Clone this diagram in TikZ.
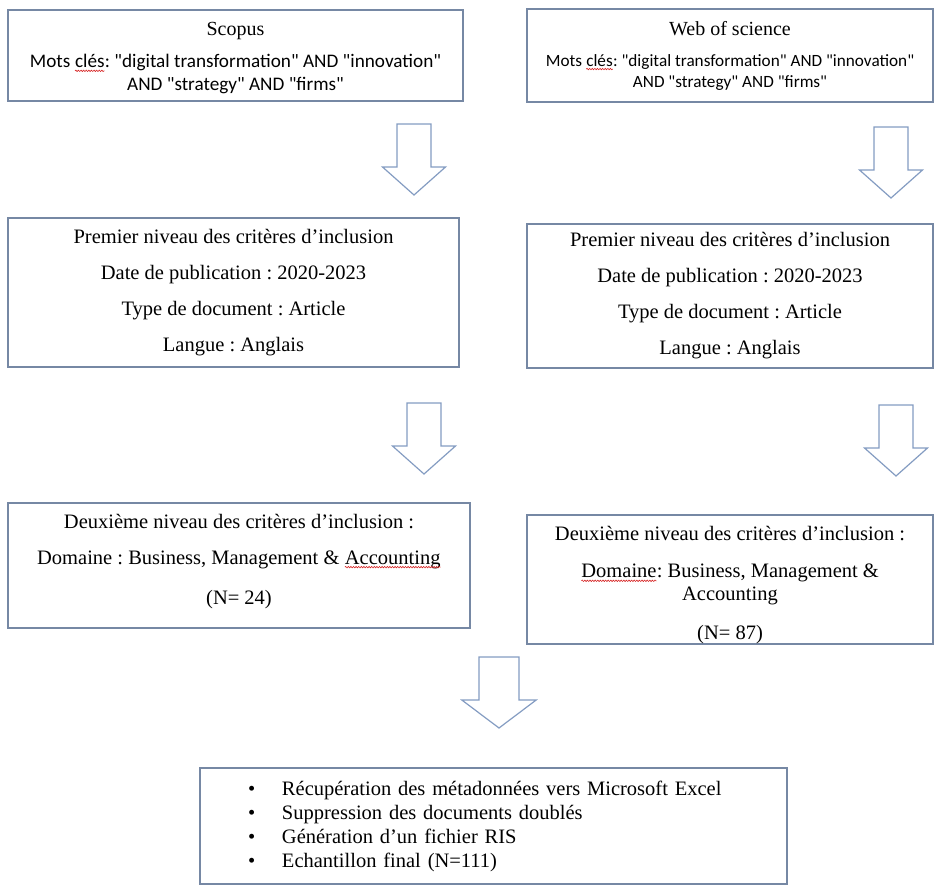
\documentclass[tikz,border=0pt]{standalone}
\usepackage{fontspec}
\setmainfont{Liberation Serif}
\newfontfamily\kwfont{Carlito}
\usetikzlibrary{arrows.meta, positioning, decorations.pathmorphing}
\definecolor{boxgrey}{RGB}{118,136,164}
\definecolor{arrowblue}{RGB}{132,156,194}
\definecolor{spellred}{RGB}{215,35,35}
\frenchspacing
% word with a red spelling squiggle under it
\newcommand{\spellerr}[1]{\tikz[baseline=(w.base)]{%
    \node[inner sep=0pt, outer sep=0pt, draw=none, fill=none, minimum size=0pt] (w) {#1};
    \draw[spellred, line width=0.6pt, decorate, decoration={snake, amplitude=0.7pt, segment length=2.6pt}]
        ([yshift=-3pt]w.base west) -- ([yshift=-3pt]w.base east);}}

\begin{document}
\begin{tikzpicture}[x=1pt, y=-1pt,
    critbox/.style={draw=boxgrey, line width=1.4pt, fill=white, inner sep=0pt, align=center},
    serifbig/.style={font=\fontsize{20.5}{36}\selectfont},
    blockarrow/.pic={
        \draw[draw=arrowblue, line width=1.2pt, fill=white, line join=miter]
            (-17,0) -- (17,0) -- (17,43) -- (31.5,43) -- (0,71) -- (-31.5,43) -- (-17,43) -- cycle;
    }]
    \useasboundingbox (0,0) rectangle (936,888);

    % Source databases
    \node[critbox, minimum width=455pt, minimum height=91pt,
          font=\kwfont\fontsize{19.2}{23}\selectfont] (scopus) at (235.5,55.5)
        {{\rmfamily\fontsize{20}{23}\selectfont\rule{0pt}{19pt}Scopus}\\[9pt]
         Mots \spellerr{clés}: "digital transformation" AND "innovation"\\
         AND "strategy" AND "firms"};
    \node[critbox, minimum width=406pt, minimum height=93pt,
          font=\kwfont\fontsize{17.2}{21}\selectfont] (wos) at (730,55.5)
        {{\rmfamily\fontsize{20}{21}\selectfont Web of science}\\[10pt]
         Mots \spellerr{clés}: "digital transformation" AND "innovation"\\
         AND "strategy" AND "firms"};

    % First level of inclusion criteria
    \node[critbox, serifbig, minimum width=451pt, minimum height=149pt] (prem1) at (233.5,292.5)
        {Premier niveau des critères d’inclusion\\
         Date de publication : 2020-2023\\
         Type de document : Article\\
         Langue : Anglais};
    \node[critbox, serifbig, minimum width=406pt, minimum height=144pt] (prem2) at (730,296)
        {Premier niveau des critères d’inclusion\\
         Date de publication : 2020-2023\\
         Type de document : Article\\
         Langue : Anglais};

    % Second level of inclusion criteria
    \node[critbox, serifbig, minimum width=462pt, minimum height=125pt] (deux1) at (239,565.5)
        {Deuxième niveau des critères d’inclusion :\\
         Domaine : Business, Management \& \spellerr{Accounting}\\[4pt]
         (N= 24)\rule[-13pt]{0pt}{13pt}};
    \node[critbox, font=\fontsize{20.5}{23}\selectfont, minimum width=406pt, minimum height=129pt] (deux2) at (730,579.5)
        {\rule{0pt}{26pt}Deuxième niveau des critères d’inclusion :\\[14pt]
         \spellerr{Domaine}: Business, Management \&\\
         Accounting\\[16pt]
         (N= 87)};

    % Final sample
    \node[critbox, align=left, text width=483pt, inner xsep=52pt, minimum height=116pt,
          font=\fontsize{20.5}{24}\selectfont] (final) at (493.5,826)
        {\makebox[30pt][l]{\hspace{-4pt}\textbullet}Récupération des métadonnées vers Microsoft Excel\\
         \makebox[30pt][l]{\hspace{-4pt}\textbullet}Suppression des documents doublés\\
         \makebox[30pt][l]{\hspace{-4pt}\textbullet}Génération d’un fichier RIS\\
         \makebox[30pt][l]{\hspace{-4pt}\textbullet}Echantillon final (N=111)};

    % Block arrows
    \pic at (414,124) {blockarrow};
    \pic at (891,127) {blockarrow};
    \pic at (424,403) {blockarrow};
    \pic at (896,405) {blockarrow};
    \pic[xscale=1.18] at (499,657) {blockarrow};
\end{tikzpicture}
\end{document}
